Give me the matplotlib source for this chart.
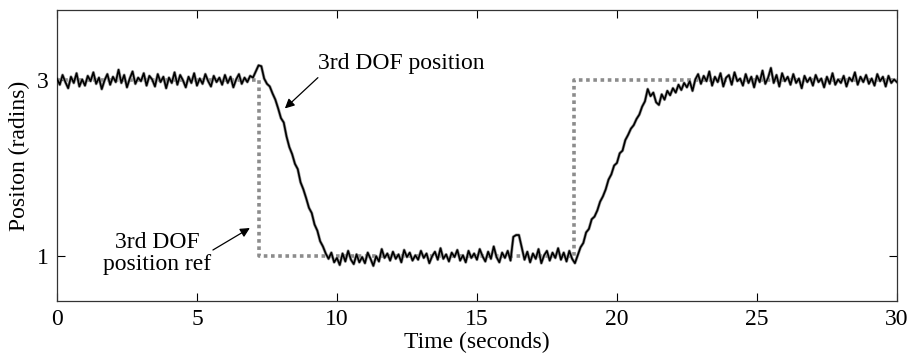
"""
Third DOF position tracking plot (measured position vs. step reference).
"""

import matplotlib
matplotlib.use("Agg")
import matplotlib.pyplot as plt
import numpy as np

plt.rcParams["font.family"] = ["Liberation Serif", "DejaVu Serif"]

# measured 3rd DOF position, sampled every 0.1 s from 0 to 30 s (radians)
position = [
    3.02, 2.95, 3.06, 2.98, 2.91, 3.04, 2.97, 3.08, 2.93, 3.01,
    2.94, 3.05, 2.99, 3.09, 2.96, 3.03, 2.90, 3.00, 3.07, 2.95,
    3.04, 2.98, 3.12, 2.97, 3.06, 2.92, 3.02, 3.10, 2.96, 3.03,
    2.99, 3.08, 2.94, 3.05, 3.01, 2.93, 3.07, 2.98, 3.04, 2.91,
    3.03, 2.97, 3.09, 2.95, 3.06, 3.00, 2.92, 3.04, 2.97, 3.08,
    2.94, 3.02, 2.96, 3.07, 2.99, 2.93, 3.05, 2.98, 3.03, 2.95,
    3.06, 2.97, 3.04, 2.92, 3.01, 3.07, 2.96, 3.03, 2.98, 3.05,
    3.03, 3.10, 3.17, 3.16, 3.02, 2.96, 2.93, 2.85, 2.78, 2.68,
    2.57, 2.52, 2.36, 2.24, 2.16, 2.05, 1.99, 1.84, 1.76, 1.66,
    1.55, 1.49, 1.36, 1.29, 1.17, 1.11, 1.03, 0.97, 1.04, 0.93,
    0.98, 0.90, 1.03, 0.94, 1.06, 0.96, 0.91, 1.02, 0.93, 0.99,
    0.92, 1.04, 0.97, 0.89, 1.00, 0.94, 1.08, 0.98, 1.03, 0.95,
    1.05, 0.97, 1.02, 0.93, 1.07, 0.99, 1.04, 0.95, 1.01, 0.96,
    1.06, 0.98, 1.03, 0.92, 1.00, 1.05, 0.96, 1.09, 0.97, 1.02,
    0.94, 1.04, 0.99, 1.07, 0.95, 1.01, 0.93, 1.06, 0.98, 1.03,
    0.96, 1.08, 1.00, 0.94, 1.05, 0.97, 1.11, 0.99, 0.93, 1.04,
    0.98, 1.06, 0.95, 1.22, 1.24, 1.24, 1.10, 0.96, 1.05, 0.93,
    1.03, 0.97, 1.08, 0.92, 1.01, 1.06, 0.95, 1.04, 0.98, 1.09,
    0.96, 1.04, 0.94, 1.06, 0.97, 0.92, 1.01, 1.10, 1.15, 1.27,
    1.31, 1.42, 1.45, 1.52, 1.62, 1.68, 1.76, 1.87, 1.93, 2.03,
    2.06, 2.17, 2.20, 2.32, 2.38, 2.45, 2.49, 2.56, 2.61, 2.70,
    2.76, 2.90, 2.82, 2.86, 2.75, 2.72, 2.84, 2.78, 2.88, 2.83,
    2.91, 2.86, 2.95, 2.89, 2.97, 2.92, 2.99, 2.88, 3.01, 3.07,
    2.96, 3.05, 2.99, 3.10, 2.94, 3.04, 2.98, 3.08, 2.93, 3.03,
    3.06, 2.95, 3.09, 2.99, 3.02, 2.94, 3.07, 2.97, 3.04, 2.92,
    3.05, 2.98, 3.11, 2.96, 3.03, 3.14, 2.97, 3.06, 2.93, 3.08,
    2.99, 3.04, 2.95, 3.07, 2.97, 3.02, 2.91, 3.05, 2.98, 3.03,
    2.94, 3.06, 2.98, 3.02, 2.92, 3.04, 2.96, 3.08, 2.95, 3.01,
    2.97, 3.05, 2.93, 3.03, 2.99, 3.09, 2.95, 3.04, 2.98, 3.06,
    2.96, 3.02, 2.94, 3.07, 2.99, 3.04, 2.93, 3.05, 2.97, 3.01,
    2.98,
]
time = np.linspace(0, 30, len(position))

# step reference
ref_time = [0, 7.2, 7.2, 18.45, 18.45, 30]
ref_pos = [3, 3, 1, 1, 3, 3]

FS = 17

fig = plt.figure(figsize=(9.1, 3.62), dpi=100)
ax = fig.add_axes([0.0626, 0.1685, 0.923, 0.804])

ax.plot(ref_time, ref_pos, color="#8c8c8c", linewidth=2.6,
        linestyle=(0, (1, 1)), dash_capstyle="butt", zorder=1)
ax.plot(time, position, color="#9a9a9a", linewidth=2.2, zorder=2)
ax.plot(time, position, color="black", linewidth=1.2, zorder=3)

ax.set_xlim(0, 30)
ax.set_ylim(0.49, 3.8)
ax.set_xticks([0, 5, 10, 15, 20, 25, 30])
ax.set_yticks([1, 3])
ax.tick_params(direction="in", length=6, width=0.8, top=True, right=True,
               labelsize=FS, pad=6)
for sp in ax.spines.values():
    sp.set_linewidth(0.9)
    sp.set_color("#333333")

ax.set_xlabel("Time (seconds)", fontsize=FS, labelpad=1)
ax.set_ylabel("Positon (radins)", fontsize=FS, labelpad=5)

arrow = dict(arrowstyle="-|>", color="black", linewidth=0.9,
             mutation_scale=14, shrinkA=0, shrinkB=0)
ax.text(9.32, 3.19, "3rd DOF position", fontsize=FS, ha="left", va="center")
ax.annotate("", xy=(8.14, 2.68), xytext=(9.32, 3.03), arrowprops=arrow)
ax.annotate("", xy=(6.89, 1.32), xytext=(5.57, 1.07), arrowprops=arrow)
ax.text(3.57, 1.03, "3rd DOF\nposition ref", fontsize=FS, ha="center",
        va="center", multialignment="center", linespacing=1.05)

fig.savefig("out.png", dpi=100)
plt.close(fig)
